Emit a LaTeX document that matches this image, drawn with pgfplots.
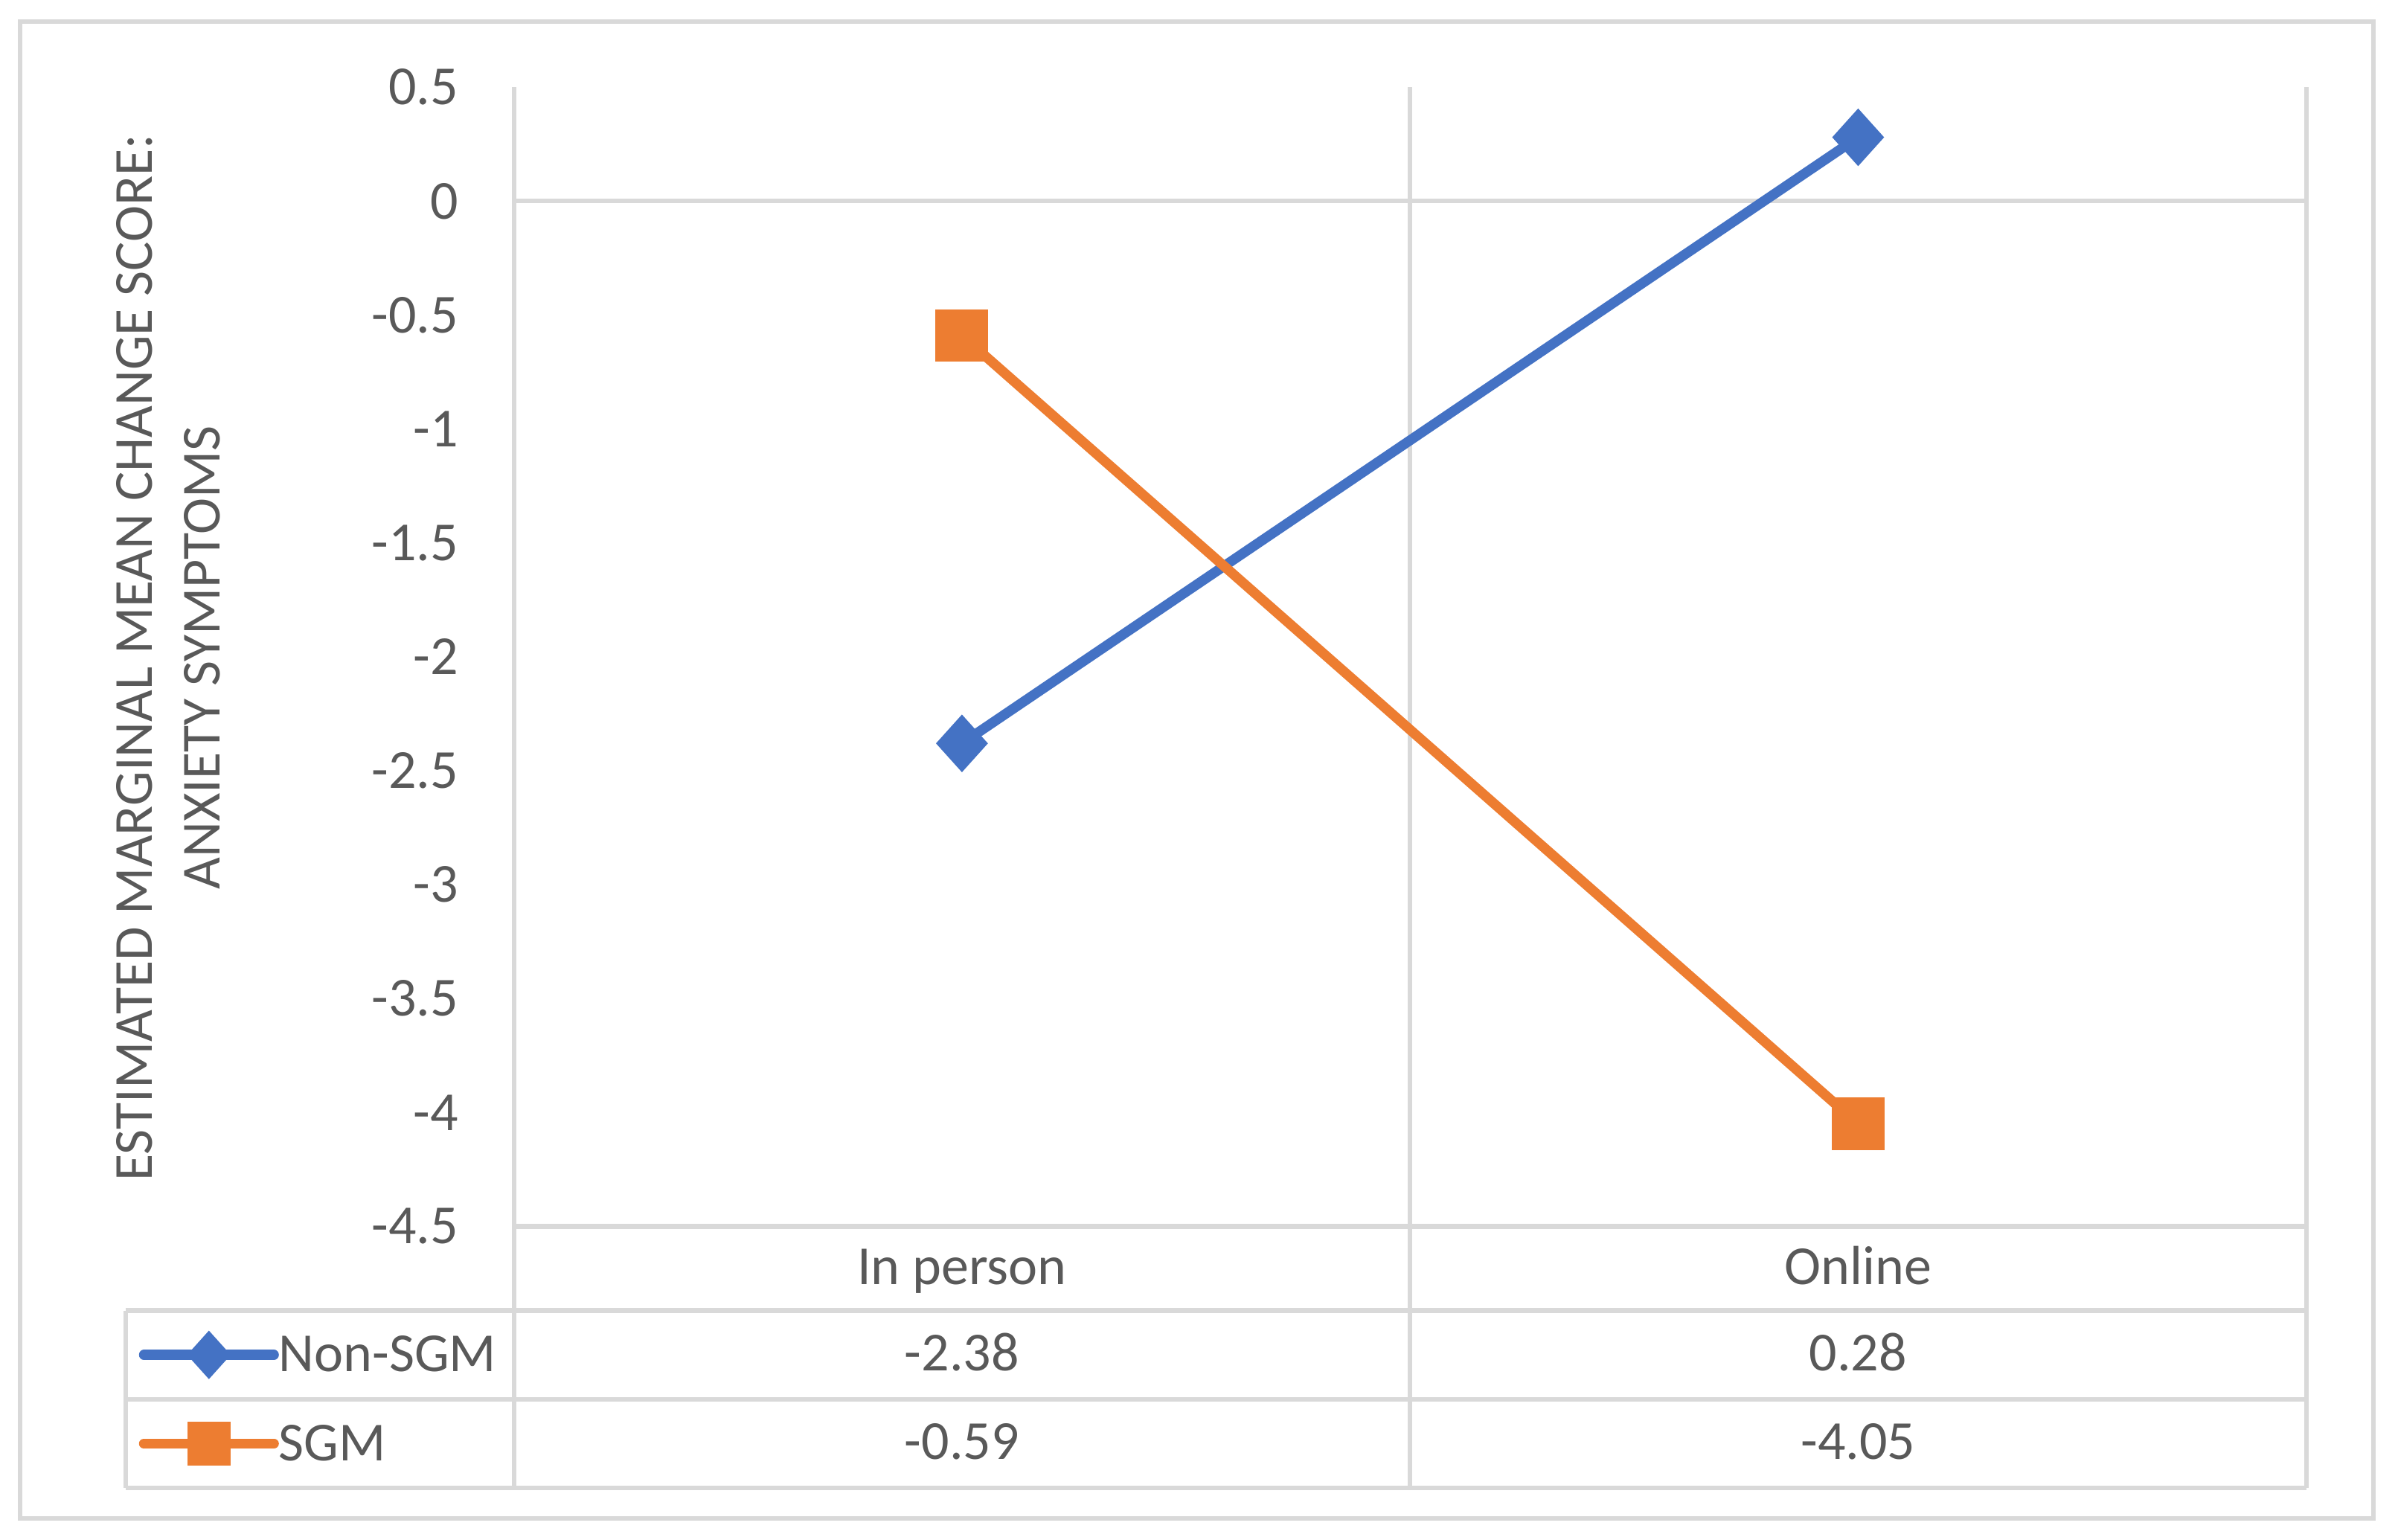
\documentclass[border=0pt]{standalone}
\usepackage{fontspec}
\setmainfont{Carlito}
\usepackage{pgfplots}
\pgfplotsset{compat=1.18}
\definecolor{ser1}{HTML}{4472C4}
\definecolor{ser2}{HTML}{ED7D31}
\definecolor{txt}{HTML}{595959}
\definecolor{grd}{HTML}{D9D9D9}
\newcommand{\cf}{\fontsize{18}{22}\selectfont}

\begin{document}
\begin{tikzpicture}
\begin{axis}[
  width=586pt, height=372.5pt, scale only axis,
  xmin=0, xmax=2, ymin=-4.5, ymax=0.5,
  clip=false,
  axis line style={draw=none},
  xtick=\empty,
  ytick={-4.5,-4,-3.5,-3,-2.5,-2,-1.5,-1,-0.5,0,0.5},
  major tick length=0pt,
  tick style={draw=none},
  yticklabel style={inner sep=0pt, xshift=-18pt, text=txt, font=\cf},
  /pgf/number format/assume math mode=true,
  /pgf/number format/fixed,
  legend image code/.code={\draw[mark repeat=2, mark phase=2, #1, mark size=5.5pt]
     plot coordinates {(0pt,0pt) (21.25pt,0pt) (42.5pt,0pt)};},
  legend cell align=left,
  legend style={at={(axis cs:-0.4190,-5.2584)}, anchor=west, draw=none, fill=none,
     inner sep=0pt, row sep=0pt, column sep=0pt, font=\cf, text=txt,
     nodes={inner sep=0pt, text height=20pt, text depth=9pt}},
]
% grid and data table frame
\draw[grd, line width=1.5pt] (axis cs:0,0) -- (axis cs:2,0);
\draw[grd, line width=1.5pt] (axis cs:0,-4.5) -- (axis cs:2,-4.5);
\draw[grd, line width=1.5pt] (axis cs:-0.4334,-4.8691) -- (axis cs:2,-4.8691);
\draw[grd, line width=1.5pt] (axis cs:-0.4334,-5.2584) -- (axis cs:2,-5.2584);
\draw[grd, line width=1.5pt] (axis cs:-0.4334,-5.6477) -- (axis cs:2,-5.6477);
\draw[grd, line width=1.5pt] (axis cs:-0.4334,-4.8691) -- (axis cs:-0.4334,-5.6477);
\draw[grd, line width=1.5pt] (axis cs:0,0.5) -- (axis cs:0,-5.6477);
\draw[grd, line width=1.5pt] (axis cs:1,0.5) -- (axis cs:1,-5.6477);
\draw[grd, line width=1.5pt] (axis cs:2,0.5) -- (axis cs:2,-5.6477);

% table texts
\node[anchor=base, text=txt, font=\cf, inner sep=0pt] at (axis cs:0.5,-4.755) {In person};
\node[anchor=base, text=txt, font=\cf, inner sep=0pt] at (axis cs:1.5,-4.755) {Online};
\node[anchor=base, text=txt, font=\cf, inner sep=0pt] at (axis cs:0.5,-5.134) {-2.38};
\node[anchor=base, text=txt, font=\cf, inner sep=0pt] at (axis cs:1.5,-5.134) {0.28};
\node[anchor=base, text=txt, font=\cf, inner sep=0pt] at (axis cs:0.5,-5.523) {-0.59};
\node[anchor=base, text=txt, font=\cf, inner sep=0pt] at (axis cs:1.5,-5.523) {-4.05};

% y label, two centred lines
\node[rotate=90, text=txt, font=\cf, inner sep=0pt] at (axis cs:-0.4232,-2.0034) {ESTIMATED MARGINAL MEAN CHANGE SCORE:};
\node[rotate=90, text=txt, font=\cf, inner sep=0pt] at (axis cs:-0.3481,-2.0034) {ANXIETY SYMPTOMS};

\addplot[ser1, line width=3.25pt, line cap=round, mark=diamond*, mark size=7pt,
  mark options={xscale=1.2}] coordinates {(0.5,-2.38) (1.5,0.28)};
\addlegendentry{Non-SGM}
\addplot[ser2, line width=3.25pt, line cap=round, mark=square*, mark size=7pt]
  coordinates {(0.5,-0.59) (1.5,-4.05)};
\addlegendentry{SGM}
\end{axis}
% chart border and page size
\draw[grd, line width=1.5pt] (-161.5pt,-95.5pt) rectangle (608pt,394pt);
\path (-168pt,-102.5pt) rectangle (616pt,401pt);
\end{tikzpicture}
\end{document}
